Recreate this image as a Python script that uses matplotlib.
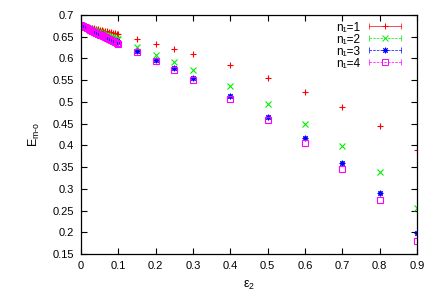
import matplotlib
matplotlib.use("Agg")
import matplotlib.pyplot as plt
from matplotlib.lines import Line2D
from matplotlib.legend_handler import HandlerBase

# ---- data ----
eps2 = [0.0, 0.005, 0.01, 0.015, 0.02, 0.025, 0.03, 0.035, 0.04, 0.045, 0.05,
        0.055, 0.06, 0.065, 0.07, 0.075, 0.08, 0.085, 0.09, 0.095, 0.1,
        0.15, 0.2, 0.25, 0.3, 0.4, 0.5, 0.6, 0.7, 0.8, 0.9]

e_n1 = [0.676, 0.675, 0.674, 0.673, 0.672, 0.671, 0.670, 0.669, 0.668, 0.667, 0.666,
        0.665, 0.664, 0.663, 0.662, 0.661, 0.660, 0.659, 0.658, 0.657, 0.656,
        0.645, 0.633, 0.622, 0.610, 0.585, 0.556, 0.523, 0.488, 0.444, 0.389]
e_n2 = [0.676, 0.674, 0.673, 0.671, 0.670, 0.668, 0.666, 0.665, 0.663, 0.661, 0.660,
        0.658, 0.657, 0.655, 0.653, 0.652, 0.650, 0.649, 0.647, 0.645, 0.644,
        0.626, 0.609, 0.591, 0.573, 0.536, 0.495, 0.450, 0.399, 0.338, 0.257]
e_n3 = [0.676, 0.674, 0.672, 0.670, 0.668, 0.666, 0.664, 0.662, 0.660, 0.658, 0.656,
        0.655, 0.653, 0.651, 0.649, 0.647, 0.645, 0.643, 0.641, 0.639, 0.637,
        0.618, 0.597, 0.577, 0.556, 0.514, 0.466, 0.417, 0.359, 0.290, 0.199]
e_n4 = [0.676, 0.674, 0.672, 0.670, 0.668, 0.665, 0.663, 0.661, 0.659, 0.657, 0.655,
        0.653, 0.651, 0.649, 0.646, 0.644, 0.642, 0.640, 0.638, 0.636, 0.634,
        0.615, 0.594, 0.573, 0.551, 0.506, 0.458, 0.406, 0.346, 0.274, 0.180]

labels = ["n₁=1", "n₁=2", "n₁=3", "n₁=4"]
series = [e_n1, e_n2, e_n3, e_n4]
colors = ["#ff0000", "#00ee00", "#0000ff", "#ff00ff"]
markers = ["+", "x", (8, 2, 0), "s"]
lstyles = ["-", (0, (3, 2)), (0, (2, 2)), (0, (1.5, 1.5))]
xticks = [0, 0.1, 0.2, 0.3, 0.4, 0.5, 0.6, 0.7, 0.8, 0.9]
yticks = [0.15, 0.2, 0.25, 0.3, 0.35, 0.4, 0.45, 0.5, 0.55, 0.6, 0.65, 0.7]

plt.rcParams['font.family'] = ['Liberation Sans', 'DejaVu Sans']
plt.rcParams['mathtext.fontset'] = 'custom'
plt.rcParams['mathtext.rm'] = 'Liberation Sans'
plt.rcParams['mathtext.it'] = 'Liberation Sans'

fig = plt.figure(figsize=(4.36, 3.05), dpi=100)
ax = fig.add_axes([0.186, 0.167, 0.770, 0.784])


def mfc(m, c):
    return 'none' if m == 's' else c


class ErrHandler(HandlerBase):
    def create_artists(self, legend, orig, xdescent, ydescent, width, height,
                       fontsize, trans):
        y = height / 2 - ydescent
        x0, x1 = -xdescent, width - xdescent
        c = orig.get_color()
        ln = Line2D([x0, x1], [y, y], color=c, lw=0.5, ls=orig.get_linestyle())
        caps = Line2D([x0, x1], [y, y], color=c, ls='none', marker='|',
                      markersize=4, markeredgewidth=0.5)
        mk = orig.get_marker()
        mid = Line2D([(x0 + x1) / 2], [y], color=c, ls='none', marker=mk,
                     markersize=4, markeredgewidth=0.7,
                     markerfacecolor=mfc(mk, c))
        for a in (ln, caps, mid):
            a.set_transform(trans)
        return [ln, caps, mid]


handles = []
for s, lab, c, m, ls in zip(series, labels, colors, markers, lstyles):
    ax.plot(eps2, s, ls='none', marker=m, color=c, markersize=4,
            markeredgewidth=0.8, markerfacecolor=mfc(m, c))
    handles.append(Line2D([], [], color=c, ls=ls, marker=m))

ax.legend(handles, labels, loc='upper right', bbox_to_anchor=(0.962, 0.987),
          frameon=False, markerfirst=False,
          fontsize=8.5, handlelength=2.7, handletextpad=0.7, labelspacing=0.0,
          borderaxespad=0.0, borderpad=0.3, handleheight=0.5,
          handler_map={Line2D: ErrHandler()})

ax.set_xlim(0, 0.9)
ax.set_ylim(0.15, 0.7)
ax.set_xticks(xticks)
ax.set_xticklabels(["0"] + [f"{v:g}" for v in xticks[1:]])
ax.set_yticks(yticks)
ax.set_yticklabels([f"{v:g}" for v in yticks])
ax.tick_params(direction='in', top=True, right=True, length=4, width=0.8,
               labelsize=8, pad=5)
for sp in ax.spines.values():
    sp.set_linewidth(0.9)
ax.set_xlabel("ε$_2$", fontsize=9, labelpad=6)
ax.set_ylabel("E$_{\\rm m\\text{-}o}$", fontsize=9, labelpad=8)

fig.savefig("out.png", dpi=100)
